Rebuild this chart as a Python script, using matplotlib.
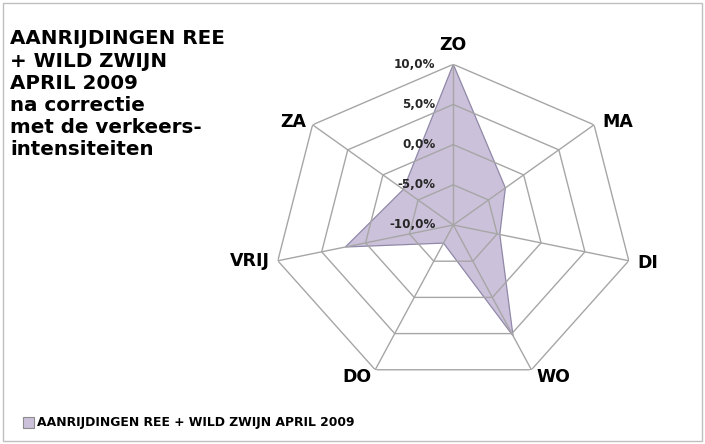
import numpy as np
import matplotlib
matplotlib.use("Agg")
import matplotlib.pyplot as plt
from matplotlib.transforms import offset_copy
from matplotlib.patches import Rectangle

# ---- data ----
categories = ["ZO", "MA", "DI", "WO", "DO", "VRIJ", "ZA"]
values = [10.0, -2.6, -4.7, 5.3, -7.5, 2.3, -2.9]
ticks = [-10, -5, 0, 5, 10]
tick_labels = ["-10,0%", "-5,0%", "0,0%", "5,0%", "10,0%"]
series_name = "AANRIJDINGEN REE + WILD ZWIJN APRIL 2009"
title_lines = ["AANRIJDINGEN REE", "+ WILD ZWIJN", "APRIL 2009",
               "na correctie", "met de verkeers-", "intensiteiten"]

W, H = 705, 444
fig = plt.figure(figsize=(W / 100, H / 100), dpi=100)
plt.rcParams['font.family'] = ['DejaVu Sans']

def fx(x):
    return x / W

def fy(y):
    return 1 - y / H

# figure frame
fig.patches.append(Rectangle((fx(3), fy(441)), fx(699), 438 / H, transform=fig.transFigure,
                             fill=False, edgecolor="#BFBFBF", linewidth=1))

cx, cy, rx, ry = 453.3, 225.0, 180.0, 160.7
ax = fig.add_axes([fx(cx - rx), fy(cy + ry), 2 * rx / W, 2 * ry / H], projection="polar")
ax.set_aspect("auto")
ax.set_theta_zero_location("N")
ax.set_theta_direction(-1)
ax.set_ylim(ticks[0], ticks[-1])
ax.grid(False)
ax.set_xticks([])
ax.set_yticks([])
ax.spines["polar"].set_visible(False)
ax.patch.set_alpha(0)

n = len(categories)
angles = np.arange(n) * 2 * np.pi / n
ang_c = np.append(angles, angles[0])

# data fill
vals_c = np.append(values, values[0])
ax.fill(ang_c, vals_c, facecolor="#CCC1DA", edgecolor="#9088A8", linewidth=0.9, zorder=1)

# grid
grid_col = "#A6A6A6"
for r in ticks[1:]:
    ax.plot(ang_c, [r] * (n + 1), color=grid_col, linewidth=1.0, zorder=2)
for a in angles:
    ax.plot([a, a], [ticks[0], ticks[-1]], color=grid_col, linewidth=1.0, zorder=2)

# radial tick labels
tr = offset_copy(ax.transData, fig=fig, x=-18, y=0, units="dots")
for r, lab in zip(ticks, tick_labels):
    ax.text(0, r, lab, transform=tr, ha="right", va="center", fontsize=8.6,
            fontweight="bold", color="#262626", zorder=5)

# category labels
offs = {"ZO": (0, 19, "center"), "MA": (8, 3, "left"), "DI": (9, -2, "left"),
        "WO": (5, -7, "left"), "DO": (-4, -7, "right"), "VRIJ": (-8, 0, "right"),
        "ZA": (-6, 3, "right")}
for a, c in zip(angles, categories):
    dx, dy, ha = offs[c]
    t = offset_copy(ax.transData, fig=fig, x=dx, y=dy, units="dots")
    ax.text(a, ticks[-1], c, transform=t, ha=ha, va="center", fontsize=12.5,
            fontweight="bold", color="black", zorder=5)

# title block
ys = [39, 61.5, 83.5, 105.5, 127.5, 149.5]
for y, line in zip(ys, title_lines):
    fig.text(fx(10), fy(y), line, ha="left", va="center", fontsize=14.3,
             fontweight="bold", color="black")

# legend
fig.patches.append(Rectangle((fx(23), fy(428)), 11 / W, 11 / H, transform=fig.transFigure,
                             facecolor="#CCC1DA", edgecolor="#8C8C8C", linewidth=0.8))
fig.text(fx(37), fy(422), series_name, ha="left", va="center", fontsize=8.9,
         fontweight="bold", color="black")

fig.savefig("out.png", dpi=100)
